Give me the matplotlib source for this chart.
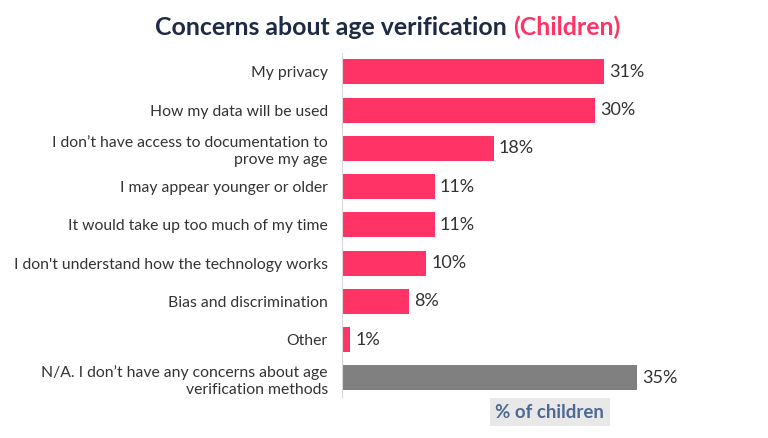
import numpy as np
from matplotlib import pyplot as plt

plt.rcParams['font.family'] = ['Lato', 'DejaVu Sans']

categories = ['My privacy',
              'How my data will be used',
              'I don\u2019t have access to documentation to\nprove my age',
              'I may appear younger or older',
              'It would take up too much of my time',
              'I don\'t understand how the technology works',
              'Bias and discrimination',
              'Other',
              'N/A. I don\u2019t have any concerns about age\nverification methods']
values = [31, 30, 18, 11, 11, 10, 8, 1, 35]

pink = '#ff3366'
grey = '#808080'
colors = [pink] * 8 + [grey]

fig = plt.figure(figsize=(7.68, 4.38), dpi=100)
ax = fig.add_axes([0.445, 0.0936, 0.44, 0.786])

y = np.arange(len(categories))
ax.barh(y, values, height=0.65, color=colors)
ax.set_ylim(len(categories) - 0.5, -0.5)
ax.set_xlim(0, 40)

for yi, v in zip(y, values):
    ax.text(v + 0.6, yi, f'{v}%', va='center', ha='left', fontsize=13, color='#333333')

ax.set_yticks(y)
ax.set_yticklabels(categories, fontsize=11.3, color='#333333', linespacing=1.25)
ax.tick_params(axis='y', length=0, pad=10)
ax.set_xticks([])
for s in ['top', 'right', 'bottom']:
    ax.spines[s].set_visible(False)
ax.spines['left'].set_color('#d9d9d9')
ax.spines['left'].set_linewidth(0.8)

fig.text(0.716, 0.059, '% of children', ha='center', va='center', fontsize=13.5,
         fontweight='bold', color='#4e6a93',
         bbox=dict(boxstyle='square,pad=0.3', facecolor='#e8e8e8', edgecolor='none'))

# title in two colours
t1 = fig.text(0.202, 0.938, 'Concerns about age verification ', ha='left', va='center',
              fontsize=17.9, fontweight='bold', color='#1f2a44')
fig.canvas.draw()
bb = t1.get_window_extent()
x2 = bb.x1 / fig.bbox.width
fig.text(x2, 0.938, '(Children)', ha='left', va='center',
         fontsize=17.9, fontweight='bold', color=pink)

fig.savefig('out.png', dpi=100, facecolor='white')
